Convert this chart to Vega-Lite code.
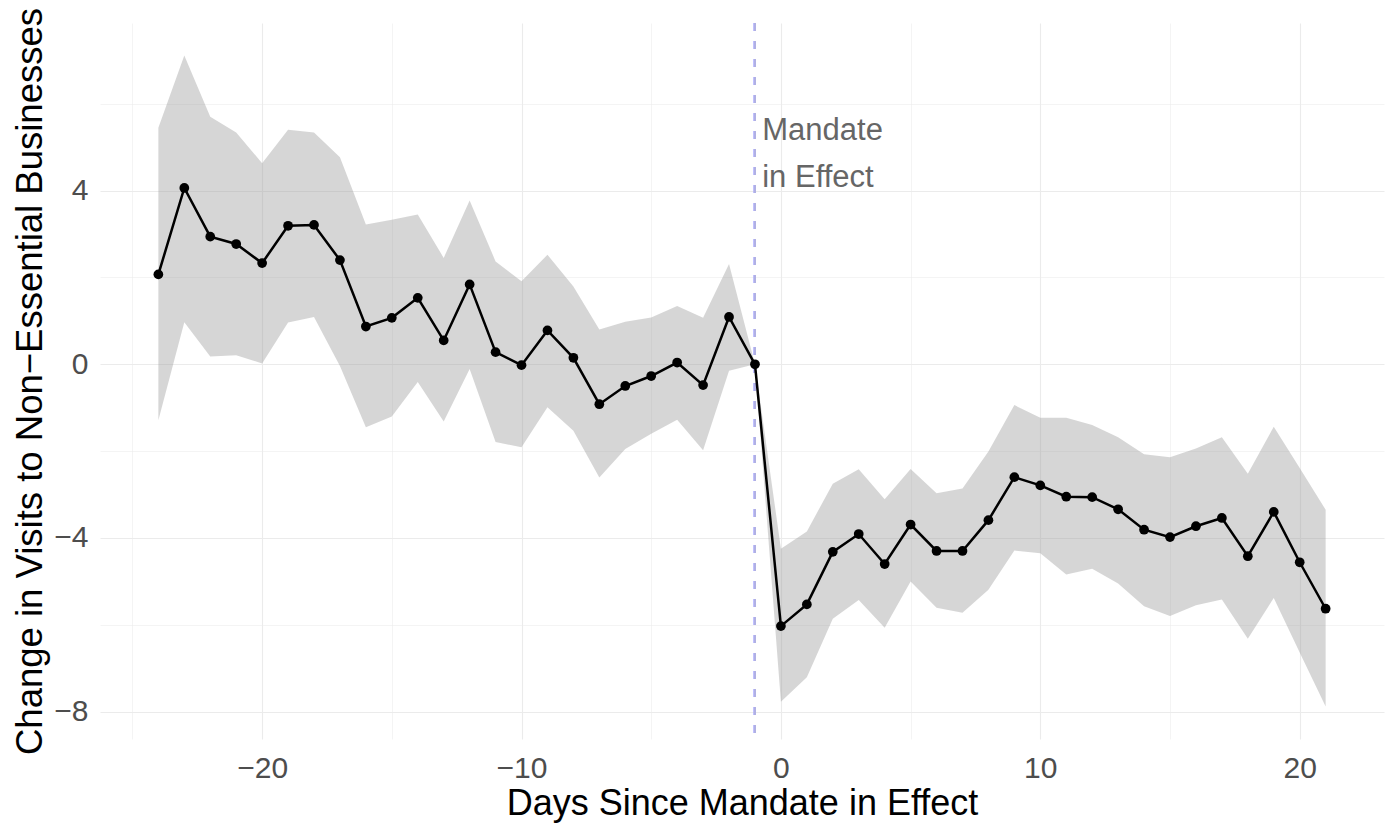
{
  "$schema": "https://vega.github.io/schema/vega-lite/v6.json",
  "width": 1284,
  "height": 716,
  "autosize": {"type": "none"},
  "padding": {"left": 100, "top": 23, "right": 8, "bottom": 86},
  "background": "white",
  "config": {
    "view": {"stroke": null},
    "font": "Liberation Sans",
    "axis": {
      "domain": false,
      "ticks": false,
      "gridColor": "#ebebeb",
      "labelFont": "Liberation Sans",
      "labelColor": "#4d4d4d",
      "labelFontSize": 30,
      "titleFont": "Liberation Sans",
      "titleFontWeight": "normal",
      "titleColor": "#000000",
      "titleFontSize": 36
    }
  },
  "datasets": {
    "effects": [
      {"day": -24, "estimate": 2.07, "lower": -1.29, "upper": 5.45},
      {"day": -23, "estimate": 4.06, "lower": 0.97, "upper": 7.11},
      {"day": -22, "estimate": 2.94, "lower": 0.18, "upper": 5.70},
      {"day": -21, "estimate": 2.77, "lower": 0.21, "upper": 5.34},
      {"day": -20, "estimate": 2.33, "lower": 0.02, "upper": 4.63},
      {"day": -19, "estimate": 3.19, "lower": 0.96, "upper": 5.40},
      {"day": -18, "estimate": 3.21, "lower": 1.09, "upper": 5.34},
      {"day": -17, "estimate": 2.40, "lower": -0.04, "upper": 4.77},
      {"day": -16, "estimate": 0.87, "lower": -1.45, "upper": 3.22},
      {"day": -15, "estimate": 1.07, "lower": -1.20, "upper": 3.33},
      {"day": -14, "estimate": 1.53, "lower": -0.41, "upper": 3.45},
      {"day": -13, "estimate": 0.55, "lower": -1.32, "upper": 2.45},
      {"day": -12, "estimate": 1.84, "lower": -0.11, "upper": 3.77},
      {"day": -11, "estimate": 0.28, "lower": -1.79, "upper": 2.37},
      {"day": -10, "estimate": -0.02, "lower": -1.91, "upper": 1.91},
      {"day": -9, "estimate": 0.78, "lower": -0.99, "upper": 2.52},
      {"day": -8, "estimate": 0.15, "lower": -1.53, "upper": 1.79},
      {"day": -7, "estimate": -0.92, "lower": -2.61, "upper": 0.80},
      {"day": -6, "estimate": -0.50, "lower": -1.95, "upper": 0.98},
      {"day": -5, "estimate": -0.27, "lower": -1.60, "upper": 1.08},
      {"day": -4, "estimate": 0.04, "lower": -1.28, "upper": 1.34},
      {"day": -3, "estimate": -0.48, "lower": -1.98, "upper": 1.07},
      {"day": -2, "estimate": 1.09, "lower": -0.15, "upper": 2.31},
      {"day": -1, "estimate": 0, "lower": 0, "upper": 0},
      {"day": 0, "estimate": -6.03, "lower": -7.77, "upper": -4.25},
      {"day": 1, "estimate": -5.53, "lower": -7.21, "upper": -3.85},
      {"day": 2, "estimate": -4.32, "lower": -5.86, "upper": -2.75},
      {"day": 3, "estimate": -3.91, "lower": -5.43, "upper": -2.42},
      {"day": 4, "estimate": -4.60, "lower": -6.07, "upper": -3.11},
      {"day": 5, "estimate": -3.69, "lower": -5.00, "upper": -2.41},
      {"day": 6, "estimate": -4.30, "lower": -5.61, "upper": -2.97},
      {"day": 7, "estimate": -4.30, "lower": -5.72, "upper": -2.86},
      {"day": 8, "estimate": -3.59, "lower": -5.19, "upper": -2.01},
      {"day": 9, "estimate": -2.60, "lower": -4.29, "upper": -0.94},
      {"day": 10, "estimate": -2.79, "lower": -4.35, "upper": -1.23},
      {"day": 11, "estimate": -3.05, "lower": -4.84, "upper": -1.23},
      {"day": 12, "estimate": -3.06, "lower": -4.71, "upper": -1.40},
      {"day": 13, "estimate": -3.34, "lower": -5.05, "upper": -1.68},
      {"day": 14, "estimate": -3.81, "lower": -5.57, "upper": -2.07},
      {"day": 15, "estimate": -3.98, "lower": -5.80, "upper": -2.14},
      {"day": 16, "estimate": -3.73, "lower": -5.55, "upper": -1.94},
      {"day": 17, "estimate": -3.54, "lower": -5.42, "upper": -1.68},
      {"day": 18, "estimate": -4.42, "lower": -6.32, "upper": -2.52},
      {"day": 19, "estimate": -3.40, "lower": -5.38, "upper": -1.44},
      {"day": 20, "estimate": -4.56, "lower": -6.64, "upper": -2.39},
      {"day": 21, "estimate": -5.63, "lower": -7.88, "upper": -3.35}
    ],
    "notes": [
      {"day": -0.72, "value": 5.16, "label": "Mandate\nin Effect"}
    ]
  },
  "data": {"name": "effects"},
  "encoding": {
    "x": {
      "field": "day",
      "type": "quantitative",
      "scale": {"domain": [-26.25, 23.25], "nice": false, "zero": false},
      "axis": {
        "title": "Days Since Mandate in Effect",
        "values": [-25, -20, -15, -10, -5, 0, 5, 10, 15, 20],
        "labelExpr": "datum.value % 10 === 0 ? datum.label : ''",
        "gridWidth": {"condition": {"test": "datum.value % 10 === 0", "value": 1.1}, "value": 0.55},
        "labelBaseline": "alphabetic",
        "labelPadding": 38,
        "titleX": 642,
        "titleY": 75,
        "titleAlign": "center",
        "titleBaseline": "alphabetic"
      }
    }
  },
  "layer": [
    {
      "mark": {"type": "area", "color": "#999999", "opacity": 0.4},
      "encoding": {
        "y": {
          "field": "lower",
          "type": "quantitative",
          "scale": {"domain": [-8.63, 7.86], "nice": false, "zero": false},
          "axis": {
            "title": "Change in Visits to Non\u2212Essential Businesses",
            "titleFontSize": 36.5,
            "values": [-8, -6, -4, -2, 0, 2, 4, 6],
            "labelExpr": "datum.value % 4 === 0 ? datum.label : ''",
            "gridWidth": {"condition": {"test": "datum.value % 4 === 0", "value": 1.1}, "value": 0.55},
            "labelPadding": 12,
            "labelBaseline": "middle",
            "titleX": -59,
            "titleY": 358,
            "titleAngle": -90,
            "titleAlign": "center",
            "titleBaseline": "alphabetic"
          }
        },
        "y2": {"field": "upper"}
      }
    },
    {
      "mark": {"type": "rule", "color": "#999999", "opacity": 0.5, "strokeWidth": 1.6, "strokeDash": [10, 9]},
      "encoding": {"y": {"datum": 0, "type": "quantitative"}}
    },
    {
      "mark": {"type": "rule", "color": "#b0b0e4", "strokeWidth": 2, "strokeDash": [8, 10]},
      "encoding": {"x": {"datum": -1, "type": "quantitative"}}
    },
    {
      "mark": {"type": "line", "color": "#000000", "strokeWidth": 2.5},
      "encoding": {"y": {"field": "estimate", "type": "quantitative"}}
    },
    {
      "mark": {"type": "point", "filled": true, "color": "#000000", "opacity": 1, "size": 95},
      "encoding": {"y": {"field": "estimate", "type": "quantitative"}}
    },
    {
      "data": {"name": "notes"},
      "mark": {
        "type": "text",
        "align": "left",
        "baseline": "alphabetic",
        "lineBreak": "\n",
        "lineHeight": 46.7,
        "fontSize": 31,
        "color": "#666666",
        "font": "Liberation Sans"
      },
      "encoding": {
        "y": {"field": "value", "type": "quantitative"},
        "text": {"field": "label"}
      }
    }
  ]
}
